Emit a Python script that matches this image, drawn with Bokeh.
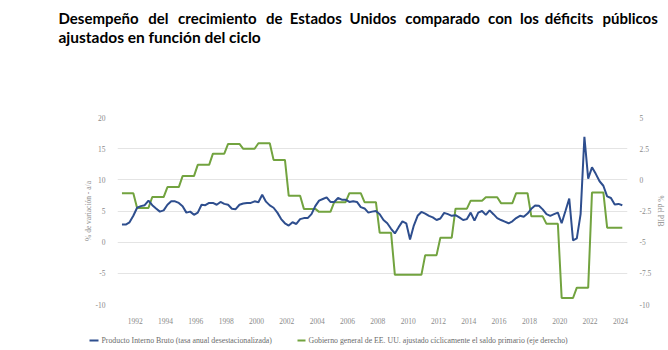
import numpy as np
from bokeh.plotting import figure
from bokeh.models import Range1d, LinearAxis, FixedTicker, CustomJSTickFormatter
from bokeh.layouts import column
from bokeh.embed import file_html
from bokeh.resources import INLINE
from bokeh.core.properties import value

# ---------------- data ----------------
title_line1 = ["Desempeño", "del", "crecimiento", "de", "Estados", "Unidos",
               "comparado", "con", "los", "déficits", "públicos"]
title_line2 = "ajustados en función del ciclo"

x_ticks = list(range(1992, 2025, 2))
left_ticks = [-10, -5, 0, 5, 10, 15, 20]
right_ticks = [-10, -7.5, -5, -2.5, 0, 2.5, 5]

left_axis_label = "% de variación - a/a"
right_axis_label = "% del PIB"

legend_labels = ["Producto Interno Bruto (tasa anual desestacionalizada)",
                 "Gobierno general de EE. UU. ajustado cíclicamente el saldo primario (eje derecho)"]

# quarterly GDP growth, 1991Q1 .. 2024Q1 (% y/y)
gdp_growth = [
    2.83, 2.83, 3.19, 4.23,   # 1991
    5.52, 5.78, 5.93, 6.66,   # 1992
    5.93, 5.41, 4.90, 5.10,   # 1993
    6.00, 6.55, 6.55, 6.30,   # 1994
    5.78, 4.74, 4.90, 4.38,   # 1995
    4.74, 6.00, 5.93, 6.30,   # 1996
    6.30, 6.00, 6.45, 6.14,   # 1997
    6.00, 5.36, 5.30, 6.00,   # 1998
    6.20, 6.30, 6.30, 6.55,   # 1999
    6.40, 7.60, 6.50, 5.90,   # 2000
    5.52, 4.74, 3.70, 3.03,   # 2001
    2.66, 3.19, 2.92, 3.70,   # 2002
    3.86, 3.86, 4.49, 5.78,   # 2003
    6.66, 6.92, 7.18, 6.45,   # 2004
    6.45, 7.08, 6.82, 6.82,   # 2005
    6.45, 6.55, 6.45, 5.62,   # 2006
    5.41, 4.74, 4.90, 5.00,   # 2007
    4.49, 3.55, 3.03, 2.15,   # 2008
    1.40, 2.41, 3.34, 3.03,   # 2009
    0.44, 2.66, 4.23, 4.85,   # 2010
    4.59, 4.23, 3.97, 3.55,   # 2011
    3.80, 4.70, 4.49, 4.23,   # 2012
    4.33, 3.97, 3.55, 3.70,   # 2013
    4.74, 3.45, 4.74, 5.00,   # 2014
    4.38, 5.10, 4.49, 3.86,   # 2015
    3.55, 3.29, 3.03, 3.34,   # 2016
    3.86, 4.23, 4.07, 4.59,   # 2017
    5.36, 5.88, 5.83, 5.26,   # 2018
    4.49, 4.23, 4.49, 4.74,   # 2019
    3.03, 5.00, 7.00, 0.30,   # 2020
    0.60, 4.50, 16.90, 10.20, # 2021
    12.00, 10.96, 9.77, 9.05, # 2022
    7.34, 7.08, 6.04, 6.14,   # 2023
    5.93,                     # 2024Q1
]

# cyclically adjusted primary balance, annual 1991 .. 2024 (% of GDP)
balance_years = list(range(1991, 2025))
primary_balance = [
    -1.07, -2.25, -1.38, -0.58, 0.30, 1.20, 2.10, 2.88, 2.49, 2.93,   # 1991-2000
    1.60, -1.28, -2.33, -2.57, -1.79, -1.07, -1.79, -4.25, -7.62, -7.62,  # 2001-2010
    -6.04, -4.64, -2.31, -1.67, -1.40, -1.87, -1.07, -2.93, -3.53, -9.48,  # 2011-2020
    -8.65, -1.01, -3.84, -3.84,                                        # 2021-2024
]

# ---------------- derived series ----------------
n_q = len(gdp_growth)
t_q = 1991 + 0.125 + 0.25 * np.arange(n_q)
green_q = np.concatenate([np.repeat(primary_balance[:-1], 4), primary_balance[-1:]])

BLUE = "#2E4E8E"
GREEN = "#72A33F"
TICK_FONT = "Liberation Serif"
TICK_COLOR = "#8A8A8A"

W = 668
TITLE_H, CHART_H, LEG_H = 60, 266, 24


def canvas_fig(h):
    f = figure(width=W, height=h, x_range=Range1d(0, W), y_range=Range1d(h, 0),
               x_axis_location=None, y_axis_location=None, min_border=0,
               toolbar_location=None, output_backend="svg")
    f.grid.visible = False
    f.outline_line_color = None
    f.frame_align = False
    return f


# ---------------- title figure (justified first line) ----------------
tfig = canvas_fig(TITLE_H)
approx_w = [83, 23, 81, 17, 53, 49, 76, 25, 18, 51]   # rendered word widths (px)
start_px, last_px = 58, 602
gap = (last_px - start_px - sum(approx_w)) / len(approx_w)
word_px = [start_px]
for wpx in approx_w:
    word_px.append(word_px[-1] + wpx + gap)
tfig.text(x=word_px, y=[17] * len(word_px), text=title_line1,
          text_font=value("Lato"), text_font_style="bold", text_font_size="15px",
          text_baseline="middle", text_align="left", text_color="#000000")
tfig.text(x=[58], y=[36], text=[title_line2],
          text_font=value("Lato"), text_font_style="bold", text_font_size="15.5px",
          text_baseline="middle", text_align="left", text_color="#000000")

# ---------------- chart figure ----------------
FL, FR = 117, 635
FT, FB = 117 - TITLE_H, 310 - TITLE_H
PX_PER_YEAR = 15.4
x0 = 1992 - (135 - FL) / PX_PER_YEAR
x1 = x0 + (FR - FL) / PX_PER_YEAR

p = figure(width=W, height=CHART_H, x_range=Range1d(x0, x1), y_range=Range1d(-10, 20),
           min_border_left=FL, min_border_right=W - FR, min_border_top=FT,
           min_border_bottom=CHART_H - FB, toolbar_location=None, output_backend="svg")
p.frame_align = False
p.extra_y_ranges = {"right": Range1d(-10, 5)}
p.outline_line_color = None
p.xgrid.visible = False
p.ygrid.grid_line_color = "#E4E4E4"
p.ygrid.grid_line_width = 1

fmt = CustomJSTickFormatter(code="return tick.toString();")

p.xaxis.ticker = FixedTicker(ticks=x_ticks)
p.xaxis.formatter = fmt
p.yaxis.ticker = FixedTicker(ticks=left_ticks)
p.yaxis.formatter = fmt
p.yaxis.axis_label = left_axis_label

raxis = LinearAxis(y_range_name="right", ticker=FixedTicker(ticks=right_ticks),
                   formatter=fmt, axis_label=right_axis_label)
p.add_layout(raxis, "right")

for ax in [p.xaxis[0], p.yaxis[0], raxis]:
    ax.axis_line_color = None
    ax.major_tick_line_color = None
    ax.minor_tick_line_color = None
    ax.major_label_text_font = TICK_FONT
    ax.major_label_text_font_size = "7.5px"
    ax.major_label_text_color = TICK_COLOR
    ax.axis_label_text_font = TICK_FONT
    ax.axis_label_text_font_size = "7.5px"
    ax.axis_label_text_font_style = "normal"
    ax.axis_label_text_color = TICK_COLOR
p.xaxis.major_label_standoff = 7
p.yaxis.major_label_standoff = 6
p.yaxis.axis_label_standoff = 0
raxis.major_label_standoff = 6
raxis.axis_label_standoff = 2

p.line(t_q, green_q, y_range_name="right", line_color=GREEN, line_width=2)
p.line(t_q, gdp_growth, line_color=BLUE, line_width=2)

# ---------------- legend figure ----------------
lfig = canvas_fig(LEG_H)
ly = 340 - (TITLE_H + CHART_H)
lfig.segment(x0=[89, 297], y0=[ly, ly], x1=[98, 305], y1=[ly, ly],
             line_color=[BLUE, GREEN], line_width=2)
lfig.text(x=[101, 308], y=[ly, ly], text=legend_labels,
          text_font=value(TICK_FONT), text_font_size="7.8px", text_color="#6A6A6A",
          text_baseline="middle", text_align="left")

layout = column(tfig, p, lfig, spacing=0)
open("out.html", "w").write(file_html(layout, INLINE))
